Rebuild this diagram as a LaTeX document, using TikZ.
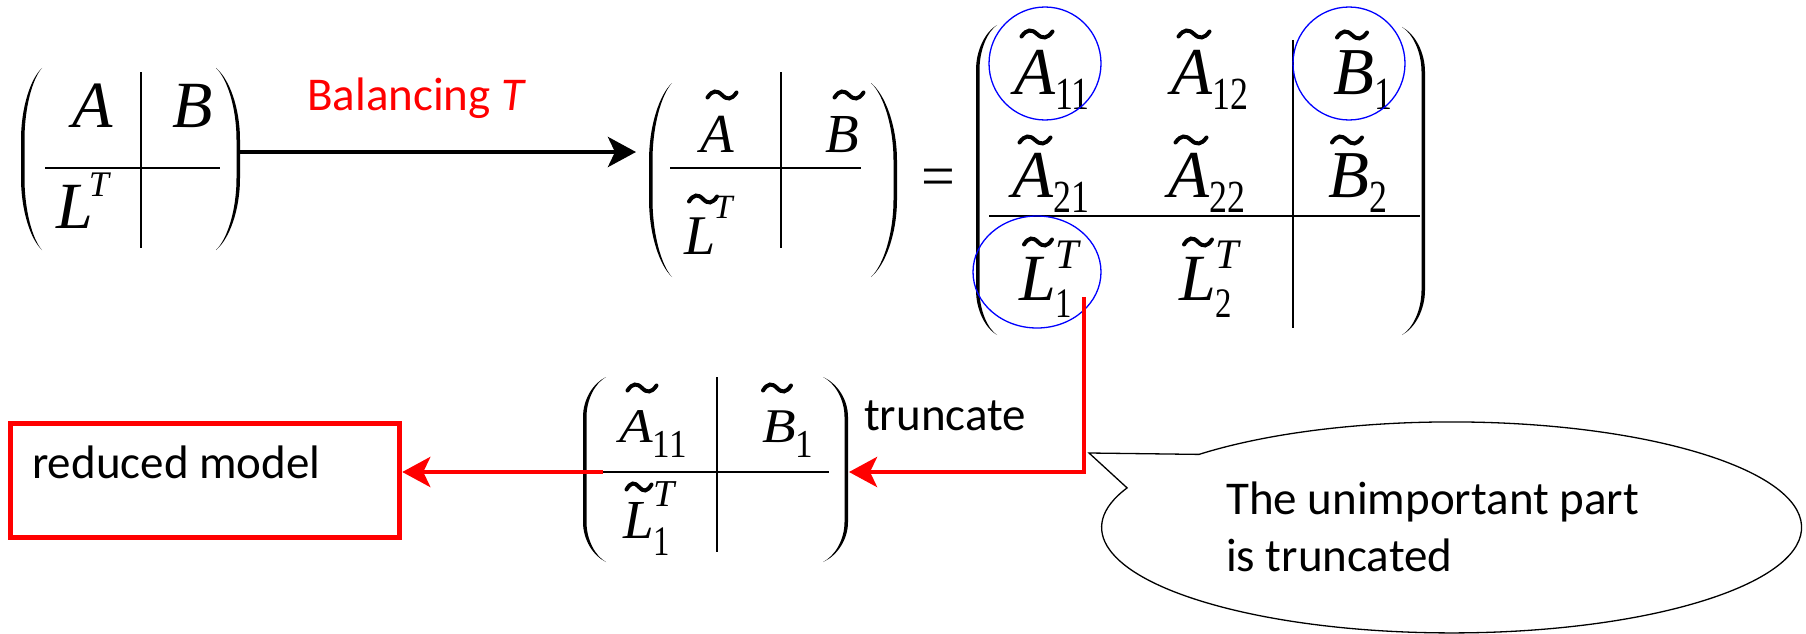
\documentclass[tikz,border=0pt]{standalone}
\usepackage{fontspec}
\setmainfont{Liberation Serif}
\setsansfont{Carlito}
\usepackage{graphicx}
\usetikzlibrary{arrows.meta}
\newcommand\matfont[1]{\fontsize{#1}{#1}\selectfont\rmfamily\itshape}
\newcommand\SB[3][0.23]{\raisebox{-#1em}{\fontsize{#2}{#2}\selectfont\upshape\scalebox{0.78}[1]{#3}}}
\newcommand\SP[3]{\raisebox{#1em}{\fontsize{#2}{#2}\selectfont\itshape #3}}
% tilde accent: centre x, centre y, width
\newcommand\tld[3]{%
 \draw[tildestroke] ({#1-0.5*#3},{#2+2.5}) .. controls ({#1-0.33*#3},{#2-5}) and ({#1-0.17*#3},{#2-5}) .. (#1,#2)
   .. controls ({#1+0.17*#3},{#2+5}) and ({#1+0.33*#3},{#2+5}) .. ({#1+0.5*#3},{#2-2.5});}
% paren: end x, bulge x, top y, bottom y, curve height, thickness (signed, towards inside)
\newcommand\bparen[6]{%
 \pgfmathsetmacro\xm{0.45*#1+0.55*#2}%
 \pgfmathsetmacro\xi{#2+(#6)}%
 \pgfmathsetmacro\xmi{0.45*#1+0.55*\xi}%
 \pgfmathsetmacro\ya{#3+#5}%
 \pgfmathsetmacro\yb{#4-#5}%
 \pgfmathsetmacro\yac{#3+0.15*#5}%
 \pgfmathsetmacro\yad{#3+0.55*#5}%
 \pgfmathsetmacro\ybc{#4-0.15*#5}%
 \pgfmathsetmacro\ybd{#4-0.55*#5}%
 \fill (#1,#3) .. controls (\xm,\yac) and (#2,\yad) .. (#2,\ya) -- (#2,\yb) .. controls (#2,\ybd) and (\xm,\ybc) .. (#1,#4)
   .. controls (\xmi,\ybc) and (\xi,\ybd) .. (\xi,\yb) -- (\xi,\ya) .. controls (\xi,\yad) and (\xmi,\yac) .. (#1,#3) -- cycle;}
\tikzset{
 mat/.style={inner sep=0pt, anchor=base west},
 rule/.style={line width=1.5pt},
 ring/.style={draw=blue, line width=1.3pt},
 tildestroke/.style={line width=4pt, line cap=round},
 sans/.style={inner sep=0pt, anchor=base west, font=\fontsize{47}{57}\selectfont\sffamily},
 redarrow/.style={draw=red, line width=4.6pt, -{Stealth[length=28pt,width=30pt,inset=7pt]}},
}
\begin{document}
\begin{tikzpicture}[x=1pt,y=-1pt]
\useasboundingbox (0,0) rectangle (1806,634);
% ---------- matrix 1
\bparen{42}{21}{68}{250}{72}{3.5}
\bparen{216}{240}{68}{250}{72}{-3.5}
\draw[rule] (141,72) -- (141,248);
\draw[rule] (45,168) -- (220,168);
\node[mat,font={\matfont{66}}] (m1a) at (72,127) {A};
\node[mat,font={\matfont{66}}] (m1b) at (172,127) {B};
\node[mat,font={\matfont{66}}] (m1l) at (56,228) {L\kern-0.06em\SP{0.47}{36}{T}};
\coordinate (m1e) at (240,152);
% ---------- arrow
\coordinate (m2w) at (636,152);
\draw[line width=4.5pt, -{Stealth[length=28pt,width=30pt,inset=7pt]}] (m1e) -- (m2w);
\node[sans, text=red] (bal) at (307,110) {Balancing \textit{T}};
% ---------- matrix 2
\bparen{672}{649}{83}{277}{78}{3.5}
\bparen{871}{897}{83}{277}{78}{-3.5}
\draw[rule] (781,72) -- (781,248);
\draw[rule] (670,168) -- (861,168);
\node[mat,font={\matfont{55}}] (m2a) at (700,152) {A};
\node[mat,font={\matfont{55}}] (m2b) at (825,152) {B};
\node[mat,font={\matfont{56}}] (m2l) at (684,254) {L\kern-0.03em\SP{0.64}{34}{T}};
\tld{722}{95}{29}
\tld{849}{95}{29}
\tld{703}{199}{28}
% ---------- equals
\node[inner sep=0pt, anchor=base, font=\fontsize{60}{60}\selectfont\rmfamily] (eq) at (938,196) {=};
% ---------- matrix 3
\bparen{997}{976}{25}{335}{45}{3.5}
\bparen{1402}{1425}{27}{335}{45}{-3.5}
\draw[rule] (1293,40) -- (1293,328);
\draw[rule] (989,216) -- (1420,216);
\node[mat,font={\matfont{67}}] (a11) at (1014,94) {A\SB{46}{11}};
\node[mat,font={\matfont{67}}] (a12) at (1171,94) {A\SB{46}{12}};
\node[mat,font={\matfont{67}}] (b1) at (1333,94) {B\SB{46}{1}};
\node[mat,font={\matfont{67}}] (a21) at (1012,197) {A\SB{46}{21}};
\node[mat,font={\matfont{67}}] (a22) at (1168,197) {A\SB{46}{22}};
\node[mat,font={\matfont{67}}] (b2) at (1328,197) {B\SB{46}{2}};
\node[mat,font={\matfont{66}}] (l1) at (1019,300) {L\rlap{\SP{0.48}{42}{T}}\SB[0.26]{42}{1}};
\node[mat,font={\matfont{66}}] (l2) at (1179,300) {L\rlap{\SP{0.48}{42}{T}}\SB[0.26]{42}{2}};
\tld{1037}{34}{31}
\tld{1194}{34}{31}
\tld{1352}{35}{30}
\tld{1035}{140}{31}
\tld{1191}{140}{31}
\tld{1347}{140}{30}
\tld{1038}{242}{28}
\tld{1198}{242}{28}
\draw[ring] (1045,63.5) ellipse[x radius=56, y radius=56.5];
\draw[ring] (1349,63.5) ellipse[x radius=56, y radius=56.5];
\draw[ring] (1037,272) ellipse[x radius=64, y radius=56];
% ---------- matrix 4
\bparen{606}{583}{377}{562}{40}{3.5}
\bparen{823}{848}{377}{562}{40}{-3.5}
\draw[rule] (717,377) -- (717,552);
\draw[rule] (589,472) -- (829,472);
\node[mat,font={\matfont{55}}] (c11) at (619,442) {\scalebox{1}[0.88]{A\SB[0.33]{45}{11}}};
\node[mat,font={\matfont{55}}] (c1) at (762,442) {\scalebox{1}[0.88]{B\SB[0.33]{45}{1}}};
\node[mat,font={\matfont{55}}] (cl) at (623,538) {L\rlap{\SP{0.57}{38}{T}}\SB[0.31]{42}{1}};
\tld{642}{388}{29}
\tld{777}{388}{28}
\tld{639}{487}{25}
\node[sans] (trunc) at (864,430) {truncate};
% ---------- red path
\coordinate (rs) at (1084,297);
\coordinate (rc) at (1084,472);
\coordinate (m4e) at (849,472);
\draw[redarrow] (rs) -- (rc) -- (m4e);
% ---------- reduced model box
\node[draw=red, line width=5pt, minimum width=389pt, minimum height=114pt, inner sep=0pt] (box) at (205.25,480) {};
\node[sans] (redtxt) at (32,478) {reduced model};
\coordinate (m4w) at (603,472);
\draw[redarrow] (m4w) -- (m4w -| box.east);
% ---------- callout
\coordinate (tip) at (1089,453);
\draw[line width=1.3pt, fill=white] (tip) -- (1199,454.4) arc[start angle=223.8, end angle=562, x radius=350, y radius=105.5] -- cycle;
\node[inner sep=0pt, anchor=north west, align=left, font=\fontsize{47}{57}\selectfont\sffamily] (note) at (1226,482) {The unimportant part\\is truncated};
\end{tikzpicture}
\end{document}
